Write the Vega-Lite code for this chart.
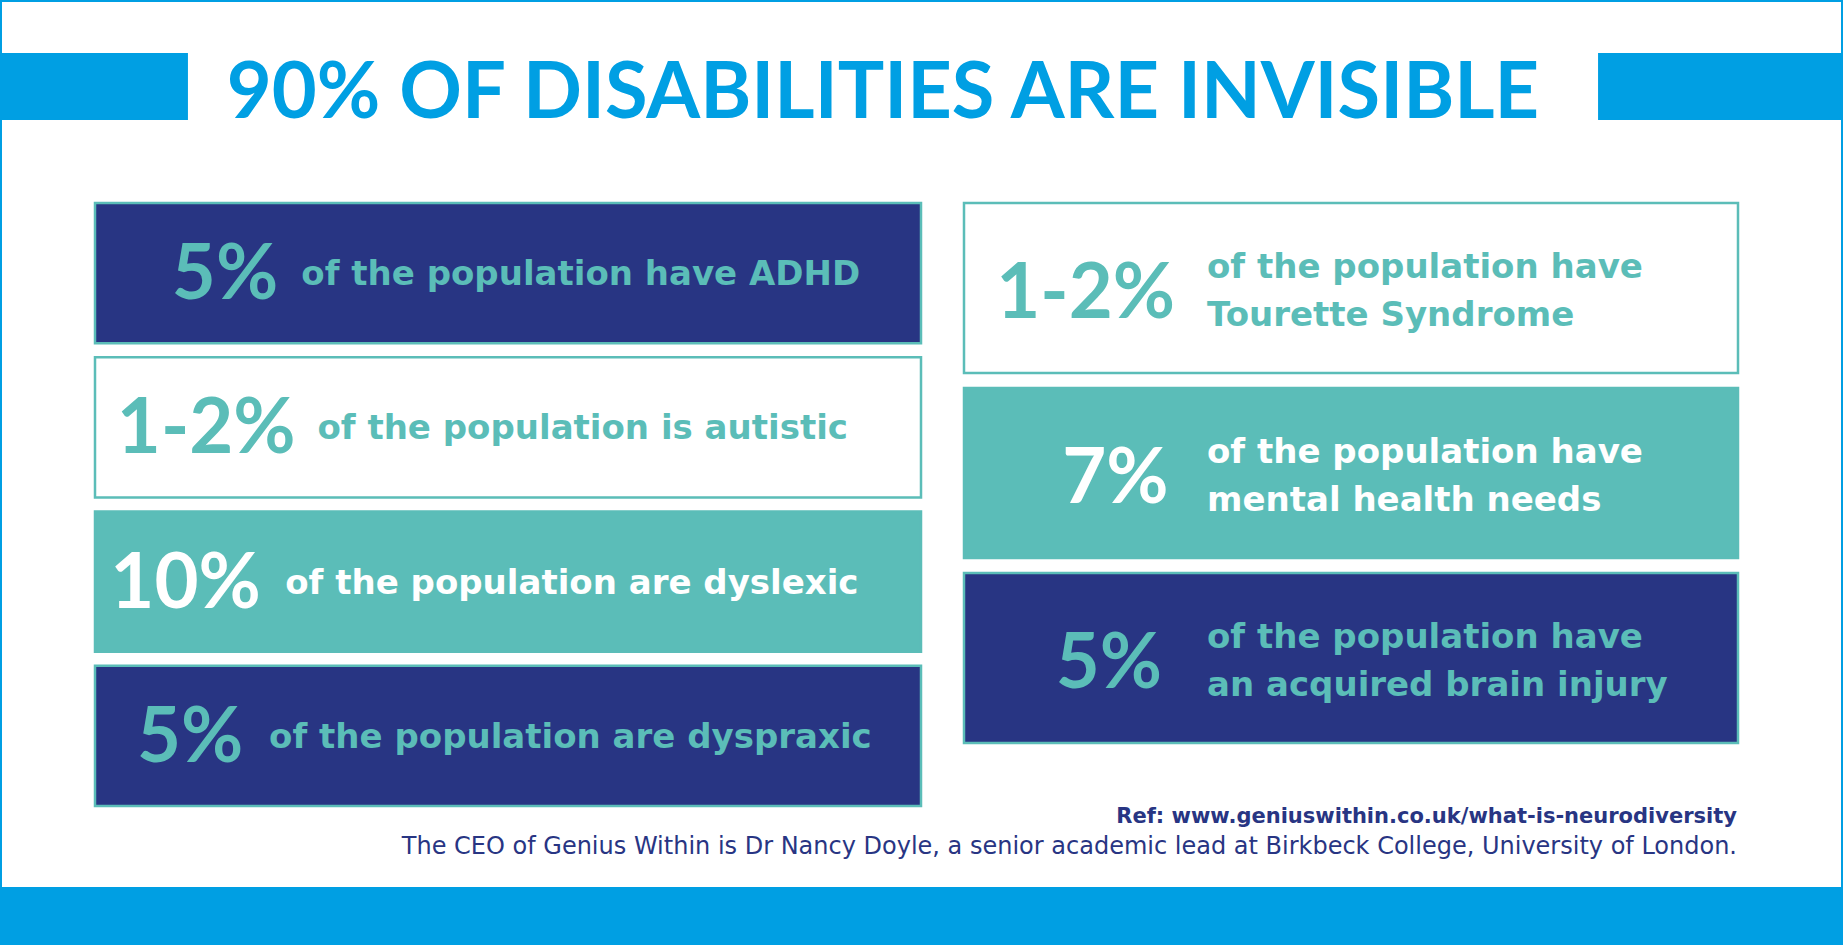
{
  "$schema": "https://vega.github.io/schema/vega-lite/v6.json",
  "width": 1843,
  "height": 889,
  "autosize": {"type": "none"},
  "padding": {"left": 0, "top": 0, "right": 0, "bottom": 56},
  "background": "#009FE3",
  "config": {"view": {"fill": "#FFFFFF", "stroke": "#009FE3", "strokeWidth": 4}},
  "datasets": {
    "facts": [
      {"item": "ADHD", "column": "left", "row": 1, "pct": "5%", "description": "of the population have ADHD"},
      {"item": "autism", "column": "left", "row": 2, "pct": "1-2%", "description": "of the population is autistic"},
      {"item": "dyslexia", "column": "left", "row": 3, "pct": "10%", "description": "of the population are dyslexic"},
      {"item": "dyspraxia", "column": "left", "row": 4, "pct": "5%", "description": "of the population are dyspraxic"},
      {"item": "Tourette", "column": "right", "row": 1, "pct": "1-2%", "description": "of the population have\nTourette Syndrome"},
      {"item": "mental health", "column": "right", "row": 2, "pct": "7%", "description": "of the population have\nmental health needs"},
      {"item": "brain injury", "column": "right", "row": 3, "pct": "5%", "description": "of the population have\nan acquired brain injury"}
    ],
    "banner": [{"bar": "left"}, {"bar": "right"}],
    "heading": [{"title": "90% OF DISABILITIES ARE INVISIBLE"}],
    "source": [
      {"line": "ref", "text": "Ref: www.geniuswithin.co.uk/what-is-neurodiversity"},
      {"line": "ceo", "text": "The CEO of Genius Within is Dr Nancy Doyle, a senior academic lead at Birkbeck College, University of London."}
    ]
  },
  "layer": [
    {
      "data": {"name": "banner"},
      "mark": {"type": "rect", "color": "#009FE3"},
      "encoding": {
        "x": {"field": "bar", "type": "nominal", "scale": {"type": "band", "domain": ["left", "right"], "range": [-57, 1843], "paddingInner": 0.852, "paddingOuter": 0}, "axis": null},
        "y": {"datum": "banner", "type": "nominal", "scale": {"type": "band", "domain": ["banner"], "range": [53, 120], "paddingInner": 0, "paddingOuter": 0}, "axis": null}
      }
    },
    {
      "data": {"name": "heading"},
      "mark": {"type": "text", "font": "Lato", "fontSize": 77.6, "fontWeight": "bold", "color": "#009FE3", "align": "center", "baseline": "alphabetic"},
      "encoding": {
        "text": {"field": "title"},
        "x": {"field": "title", "type": "nominal", "scale": {"type": "point", "range": [229, 1537], "padding": 0.5}, "axis": null},
        "y": {"field": "title", "type": "nominal", "scale": {"type": "point", "range": [118, 118]}, "axis": null}
      }
    },
    {
      "data": {"name": "facts"},
      "transform": [{"filter": "datum.column === 'left'"}],
      "mark": {"type": "rect", "stroke": "#5BBDB8", "strokeWidth": 2.5},
      "encoding": {
        "x": {"field": "column", "type": "nominal", "scale": {"type": "band", "domain": ["left"], "range": [95, 921], "paddingInner": 0, "paddingOuter": 0}, "axis": null},
        "y": {"field": "row", "type": "ordinal", "scale": {"type": "band", "domain": [1, 2, 3, 4], "range": [203, 806], "paddingInner": 0.0909, "paddingOuter": 0}, "axis": null},
        "fill": {"field": "item", "type": "nominal", "scale": {"domain": ["ADHD", "autism", "dyslexia", "dyspraxia", "Tourette", "mental health", "brain injury"], "range": ["#283583", "#FFFFFF", "#5BBDB8", "#283583", "#FFFFFF", "#5BBDB8", "#283583"]}, "legend": null}
      }
    },
    {
      "data": {"name": "facts"},
      "transform": [{"filter": "datum.column === 'right'"}],
      "mark": {"type": "rect", "stroke": "#5BBDB8", "strokeWidth": 2.5},
      "encoding": {
        "x": {"field": "column", "type": "nominal", "scale": {"type": "band", "domain": ["right"], "range": [964, 1738], "paddingInner": 0, "paddingOuter": 0}, "axis": null},
        "y": {"field": "row", "type": "ordinal", "scale": {"type": "band", "domain": [1, 2, 3], "range": [203, 743], "paddingInner": 0.081, "paddingOuter": 0}, "axis": null},
        "fill": {"field": "item", "type": "nominal", "scale": {"domain": ["ADHD", "autism", "dyslexia", "dyspraxia", "Tourette", "mental health", "brain injury"], "range": ["#283583", "#FFFFFF", "#5BBDB8", "#283583", "#FFFFFF", "#5BBDB8", "#283583"]}, "legend": null}
      }
    },
    {
      "data": {"name": "facts"},
      "transform": [{"filter": "datum.column === 'left'"}],
      "mark": {"type": "text", "font": "Lato", "fontSize": 76, "fontWeight": "bold", "align": "right", "baseline": "alphabetic"},
      "encoding": {
        "text": {"field": "pct"},
        "x": {"field": "item", "type": "nominal", "scale": {"type": "point", "domain": ["dyspraxia", "dyslexia", "ADHD", "autism"], "range": [243.4, 295.6], "padding": 0}, "axis": null},
        "y": {"field": "row", "type": "ordinal", "bandPosition": 0.685, "scale": {"type": "band", "domain": [1, 2, 3, 4], "range": [203, 806], "paddingInner": 0.0909, "paddingOuter": 0}, "axis": null},
        "color": {"field": "item", "type": "nominal", "scale": {"domain": ["ADHD", "autism", "dyslexia", "dyspraxia", "Tourette", "mental health", "brain injury"], "range": ["#5BBDB8", "#5BBDB8", "#FFFFFF", "#5BBDB8", "#5BBDB8", "#FFFFFF", "#5BBDB8"]}, "legend": null}
      }
    },
    {
      "data": {"name": "facts"},
      "transform": [{"filter": "datum.column === 'left'"}],
      "mark": {"type": "text", "font": "DejaVu Sans", "fontSize": 34, "fontWeight": "bold", "align": "left", "baseline": "alphabetic"},
      "encoding": {
        "text": {"field": "description"},
        "x": {"field": "item", "type": "nominal", "scale": {"type": "point", "domain": ["dyspraxia", "dyslexia", "ADHD", "autism"], "range": [269.1, 317.4], "padding": 0}, "axis": null},
        "y": {"field": "row", "type": "ordinal", "bandPosition": 0.585, "scale": {"type": "band", "domain": [1, 2, 3, 4], "range": [203, 806], "paddingInner": 0.0909, "paddingOuter": 0}, "axis": null},
        "color": {"field": "item", "type": "nominal", "scale": {"domain": ["ADHD", "autism", "dyslexia", "dyspraxia", "Tourette", "mental health", "brain injury"], "range": ["#5BBDB8", "#5BBDB8", "#FFFFFF", "#5BBDB8", "#5BBDB8", "#FFFFFF", "#5BBDB8"]}, "legend": null}
      }
    },
    {
      "data": {"name": "facts"},
      "transform": [{"filter": "datum.column === 'right'"}],
      "mark": {"type": "text", "font": "Lato", "fontSize": 76, "fontWeight": "bold", "align": "right", "baseline": "alphabetic"},
      "encoding": {
        "text": {"field": "pct"},
        "x": {"field": "item", "type": "nominal", "scale": {"type": "point", "domain": ["brain injury", "mental health", "Tourette"], "range": [1162, 1175], "padding": 0}, "axis": null},
        "y": {"field": "row", "type": "ordinal", "bandPosition": 0.675, "scale": {"type": "band", "domain": [1, 2, 3], "range": [203, 743], "paddingInner": 0.081, "paddingOuter": 0}, "axis": null},
        "color": {"field": "item", "type": "nominal", "scale": {"domain": ["ADHD", "autism", "dyslexia", "dyspraxia", "Tourette", "mental health", "brain injury"], "range": ["#5BBDB8", "#5BBDB8", "#FFFFFF", "#5BBDB8", "#5BBDB8", "#FFFFFF", "#5BBDB8"]}, "legend": null}
      }
    },
    {
      "data": {"name": "facts"},
      "transform": [{"filter": "datum.column === 'right'"}],
      "mark": {"type": "text", "font": "DejaVu Sans", "fontSize": 34, "fontWeight": "bold", "align": "left", "baseline": "alphabetic", "lineBreak": "\n", "lineHeight": 48},
      "encoding": {
        "text": {"field": "description"},
        "x": {"field": "column", "type": "nominal", "scale": {"type": "point", "domain": ["right"], "range": [1207, 1207]}, "axis": null},
        "y": {"field": "row", "type": "ordinal", "bandPosition": 0.44, "scale": {"type": "band", "domain": [1, 2, 3], "range": [203, 743], "paddingInner": 0.081, "paddingOuter": 0}, "axis": null},
        "color": {"field": "item", "type": "nominal", "scale": {"domain": ["ADHD", "autism", "dyslexia", "dyspraxia", "Tourette", "mental health", "brain injury"], "range": ["#5BBDB8", "#5BBDB8", "#FFFFFF", "#5BBDB8", "#5BBDB8", "#FFFFFF", "#5BBDB8"]}, "legend": null}
      }
    },
    {
      "data": {"name": "source"},
      "transform": [{"filter": "datum.line === 'ref'"}],
      "mark": {"type": "text", "font": "DejaVu Sans", "fontSize": 21, "fontWeight": "bold", "color": "#283583", "align": "right", "baseline": "alphabetic"},
      "encoding": {
        "text": {"field": "text"},
        "x": {"field": "line", "type": "nominal", "scale": {"type": "point", "domain": ["ref", "ceo"], "range": [1737, 1737]}, "axis": null},
        "y": {"field": "line", "type": "nominal", "scale": {"type": "point", "domain": ["ref", "ceo"], "range": [823, 854], "padding": 0}, "axis": null}
      }
    },
    {
      "data": {"name": "source"},
      "transform": [{"filter": "datum.line === 'ceo'"}],
      "mark": {"type": "text", "font": "DejaVu Sans", "fontSize": 24, "color": "#283583", "align": "right", "baseline": "alphabetic"},
      "encoding": {
        "text": {"field": "text"},
        "x": {"field": "line", "type": "nominal", "scale": {"type": "point", "domain": ["ref", "ceo"], "range": [1737, 1737]}, "axis": null},
        "y": {"field": "line", "type": "nominal", "scale": {"type": "point", "domain": ["ref", "ceo"], "range": [823, 854], "padding": 0}, "axis": null}
      }
    }
  ],
  "resolve": {"scale": {"x": "independent", "y": "independent", "fill": "independent", "color": "independent"}}
}
